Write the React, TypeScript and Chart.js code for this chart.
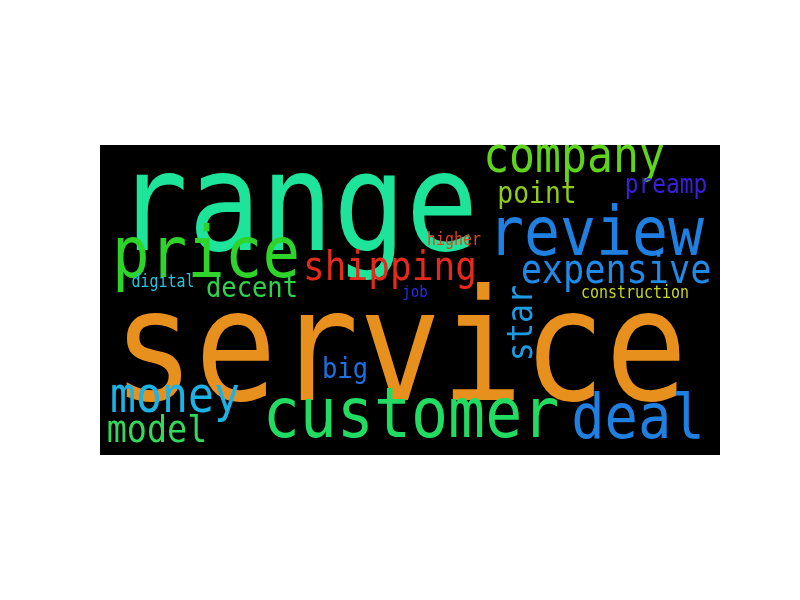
import React, { useEffect, useRef } from 'react';
import { Chart, registerables, Plugin } from 'chart.js';

Chart.register(...registerables);

// word cloud data: word, centre x, baseline y (in 620x310 box units), font size, colour, rotation
const words = ['range', 'service', 'customer', 'review', 'price', 'company', 'deal', 'money', 'model', 'shipping', 'expensive', 'decent', 'point', 'preamp', 'higher', 'digital', 'job', 'construction', 'big', 'star'];
const xs = [197, 300, 311, 496, 106, 474, 538, 75, 57, 290, 516, 152, 437, 566, 354, 63, 315, 535, 245, 423];
const ys = [105, 255, 292, 110, 132, 27, 293, 267, 297, 135, 138, 152, 58, 48, 100, 142, 152, 153, 233, 178];
const sizes = [137, 155, 70, 68, 71, 49, 63, 49, 38, 41, 40, 29, 30, 26, 17, 17, 16, 17, 29, 36];
const colors = ['#1ee39a', '#e8901e', '#22dc62', '#1f80e2', '#2fd42a', '#5ed41c', '#1f80e2', '#1cb2e6', '#34d95c', '#e42a1c', '#2189e6', '#2ed34a', '#8fcb18', '#3a1fe0', '#e0421e', '#1fc6e0', '#2a2ce8', '#c9d81a', '#1e6fe0', '#1e9be2'];
const rotations = [0, 0, 0, 0, 0, 0, 0, 0, 0, 0, 0, 0, 0, 0, 0, 0, 0, 0, 0, -90];
const condense = 0.88;

const cloudPlugin: Plugin = {
  id: 'cloud',
  beforeDraw(chart) {
    const { ctx, chartArea } = chart;
    ctx.save();
    ctx.fillStyle = '#000';
    ctx.fillRect(chartArea.left, chartArea.top, chartArea.right - chartArea.left, chartArea.bottom - chartArea.top);
    ctx.restore();
  },
  afterDatasetsDraw(chart) {
    const { ctx } = chart;
    const sx = chart.scales.x;
    const sy = chart.scales.y;
    words.forEach((w, i) => {
      const px = sx.getPixelForValue(xs[i]);
      const py = sy.getPixelForValue(ys[i]);
      ctx.save();
      ctx.translate(px, py);
      ctx.rotate((rotations[i] * Math.PI) / 180);
      ctx.scale(condense, 1);
      ctx.font = `${sizes[i]}px "DejaVu Sans Mono"`;
      ctx.fillStyle = colors[i];
      ctx.textAlign = 'center';
      ctx.textBaseline = rotations[i] ? 'middle' : 'alphabetic';
      ctx.fillText(w, 0, 0);
      ctx.restore();
    });
  },
};

const App: React.FC = () => {
  const ref = useRef<HTMLCanvasElement | null>(null);

  useEffect(() => {
    document.body.style.margin = '0';
    if (!ref.current) return;
    const chart = new Chart(ref.current, {
      type: 'scatter',
      data: {
        datasets: [{ data: words.map((_, i) => ({ x: xs[i], y: ys[i] })), pointRadius: 0 }],
      },
      options: {
        animation: false,
        responsive: true,
        maintainAspectRatio: false,
        layout: { padding: { left: 100, right: 80, top: 145, bottom: 145 } },
        plugins: { legend: { display: false }, tooltip: { enabled: false } },
        scales: {
          x: { display: false, min: 0, max: 620 },
          y: { display: false, min: 0, max: 310, reverse: true },
        },
      },
      plugins: [cloudPlugin],
    });
    return () => chart.destroy();
  }, []);

  return (
    <div style={{ width: 800, height: 600, position: 'relative' }}>
      <canvas ref={ref} />
    </div>
  );
};

export default App;
